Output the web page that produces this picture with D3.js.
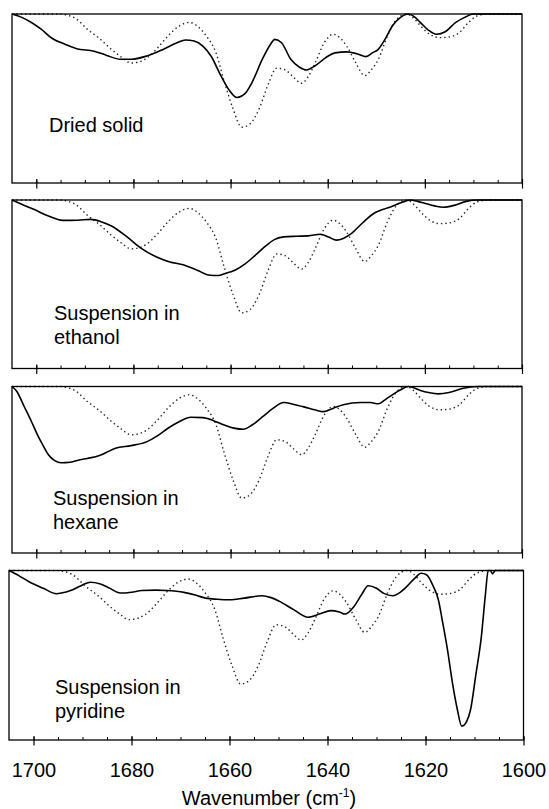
<!DOCTYPE html>
<html>
<head>
<meta charset="utf-8">
<script src="https://cdn.jsdelivr.net/npm/d3@7"></script>
<style>
  body { margin: 0; background: #fff; }
  svg { display: block; font-family: 'Liberation Sans', Arial, sans-serif; }
</style>
</head>
<body>
<svg class="chartContainer" width="549" height="809"></svg>
<script>
// x axis: wavenumber, high on the left
const xDomain = [1705, 1600]
const majorTicks = [1700, 1680, 1660, 1640, 1620, 1600]
const minorTicks = [1700, 1695, 1690, 1685, 1680, 1675, 1670, 1665, 1660, 1655, 1650,
  1645, 1640, 1635, 1630, 1625, 1620, 1615, 1610, 1605, 1600]

// Depth of each trace below the panel top, in % of panel height: [wavenumber, depth]
// dotted reference trace, the same in every panel
const referenceTrace = [
  [1705, 0], [1695.3, 0], [1692, 2.5], [1689.5, 9], [1687, 14.5], [1684.5, 21], [1682.5, 25.5],
  [1680.5, 29], [1678.5, 28], [1677.2, 26], [1675, 20], [1672.9, 13], [1670.5, 7], [1668.5, 5],
  [1666.7, 7.5], [1665, 13], [1663, 23], [1661.3, 40], [1659.5, 56], [1657.7, 67], [1656, 65],
  [1654.1, 56], [1652.3, 42], [1650.5, 32], [1648.8, 33], [1647, 37.5], [1645.4, 41], [1644, 37],
  [1642.6, 29], [1640.7, 17], [1638.9, 12], [1637.5, 14], [1636.1, 19], [1634.2, 29], [1632.4, 36.5],
  [1631, 33], [1629.6, 27], [1627.7, 13], [1625.9, 3.5], [1623.8, 0], [1622.3, 2.5], [1620.9, 7],
  [1619, 12], [1616.9, 14], [1614.8, 13.5], [1612.9, 11], [1611, 5], [1609.3, 1.2], [1607, 0], [1600, 0]
]

const driedSolid = [
  [1705, 0], [1703, 2], [1701, 5], [1699, 9], [1696.7, 14.5], [1694, 18], [1691.7, 20.5], [1688.1, 22],
  [1685.5, 24.5], [1682.7, 26.8], [1680.5, 26.8], [1677.2, 24.8], [1673.6, 20.5], [1671, 17],
  [1669.3, 15.4], [1667.5, 16], [1665.7, 19], [1664, 25], [1662, 36.5], [1660.3, 45], [1658.7, 49.4],
  [1657, 47], [1655.6, 40.6], [1653.5, 27], [1651.8, 18], [1650.9, 15], [1649.5, 17], [1647.6, 26.8],
  [1645.8, 31.5], [1644.4, 33.1], [1642.5, 30.5], [1640.4, 25.8], [1638.5, 23], [1636.1, 22.4],
  [1634, 23.5], [1632.1, 25.2], [1630.8, 23], [1629.6, 20.9], [1628, 14], [1626.7, 7.1], [1625, 2],
  [1623.4, 0], [1622, 2], [1620.9, 5.1], [1619.3, 9.5], [1617.6, 12], [1615.8, 10.5], [1613.7, 5.1],
  [1611.8, 2], [1610, 0], [1600, 0]
]

const inEthanol = [
  [1705, 0], [1703, 2.5], [1700.4, 5.7], [1697.5, 9.5], [1694.6, 12.1], [1691.5, 12], [1688.8, 11.5],
  [1686.5, 13], [1684.5, 15.4], [1681.5, 21.5], [1678.7, 28.1], [1675.1, 34], [1672.5, 36.8],
  [1670, 38.3], [1667, 41.5], [1664.2, 44.7], [1662.5, 44.8], [1661.3, 43.8], [1659, 41.5],
  [1657, 37.9], [1654.8, 32.5], [1652.7, 27.1], [1651, 23.5], [1649.1, 21.9], [1646.5, 21.5],
  [1644, 21.3], [1641.5, 20.3], [1639.8, 22], [1638.2, 23.8], [1636.8, 22.8], [1635.3, 20.3],
  [1632.8, 13.5], [1630.3, 7.6], [1628.5, 5.5], [1626.7, 3.7], [1624.8, 1.5], [1623.1, 0],
  [1621.5, 0.8], [1620.2, 1.8], [1618, 3.5], [1616.2, 4.3], [1614, 3.2], [1611.5, 0.8], [1609, 0], [1600, 0]
]

const inHexane = [
  [1705, 0], [1704, 3], [1702.5, 12], [1701, 21], [1699.6, 30], [1698.5, 36], [1697.5, 41],
  [1696.2, 44.5], [1694.9, 45.8], [1693, 45.5], [1691, 44], [1689.5, 43.2], [1687, 41.5],
  [1685.5, 39.5], [1683.7, 37.1], [1680.5, 35.5], [1677.2, 33.1], [1675, 29.5], [1672.9, 25.1],
  [1670.5, 21], [1668.2, 18.5], [1665.7, 18.7], [1663.5, 20.5], [1661.3, 23.1], [1659.3, 25],
  [1657.4, 25.7], [1655.5, 23], [1653.4, 18.1], [1651.2, 13], [1649.1, 9.6], [1646.9, 10.8],
  [1644.7, 12.4], [1642.7, 14], [1640.8, 15.1], [1638.8, 13], [1636.8, 11], [1633.2, 9.6],
  [1631.2, 9.6], [1629.6, 10.4], [1628.2, 8], [1626.7, 5], [1625, 2], [1623.4, 0], [1621.9, 1.2],
  [1620.9, 2.4], [1619, 3.8], [1617.3, 4.4], [1615, 3.6], [1612.3, 1.2], [1609, 0], [1600, 0]
]

const inPyridine = [
  [1705, 0], [1703, 3], [1701, 6.5], [1698, 10.5], [1695.3, 13.7], [1693.5, 12.8], [1692, 11.4],
  [1690, 8.5], [1688.4, 6.9], [1686.5, 7.8], [1684.5, 10.4], [1682.3, 13.3], [1680, 12.8],
  [1677.9, 11.8], [1675, 11.6], [1672.9, 11.8], [1669.3, 12.9], [1667, 14.5], [1664.9, 16.3],
  [1662.5, 17], [1659.9, 17.3], [1657, 16.3], [1653.4, 14.9], [1651.5, 16], [1649.8, 18.2],
  [1646.9, 23.1], [1644, 27.6], [1641.5, 25.5], [1639.3, 23.7], [1637.6, 24.5], [1636.4, 25.7],
  [1634.6, 21.2], [1633, 14], [1631.7, 9], [1630, 10.5], [1628.5, 13.5], [1626.7, 14.9], [1625, 12.5],
  [1623.8, 9.4], [1622, 4], [1620.9, 1.6], [1619.8, 2.5], [1618.4, 9.4], [1617.4, 17], [1616.6, 29],
  [1615.5, 47], [1614.5, 66.3], [1613.5, 82], [1612.6, 91.8], [1611.6, 89], [1610.8, 82],
  [1609.7, 61], [1608.6, 39], [1607.8, 15], [1607.2, 0], [1606.8, 0], [1606.3, 2], [1605.8, 0], [1600, 0]
]

const panelTraces = [driedSolid, inEthanol, inHexane, inPyridine]
const panelLabels = [['Dried solid'], ['Suspension in', 'ethanol'], ['Suspension in', 'hexane'], ['Suspension in', 'pyridine']]
const xAxisLabel = 'Wavenumber (cm'

// panel boxes on the page
const boxes = [
  { top: 14, bottom: 183, left: 12, right: 522, labelX: 49, labelY: 132 },
  { top: 200, bottom: 368.5, left: 12, right: 522, labelX: 54, labelY: 320 },
  { top: 386.5, bottom: 553, left: 12, right: 522, labelX: 53, labelY: 505 },
  { top: 570.5, bottom: 740, left: 9, right: 523.5, labelX: 55, labelY: 694 }
]

const svg = d3.select('svg.chartContainer')

panelTraces.forEach((trace, i) => {
  const box = boxes[i]
  const x = d3.scaleLinear().domain(xDomain).range([box.left, box.right])
  const y = d3.scaleLinear().domain([0, 100]).range([box.top, box.bottom])
  const line = d3.line()
    .x(d => x(d[0]))
    .y(d => y(d[1]))
    .curve(d3.curveMonotoneX)

  const g = svg.append('g').attr('class', 'panel')

  g.append('path')
    .datum(referenceTrace)
    .attr('d', line)
    .attr('fill', 'none')
    .attr('stroke', '#222')
    .attr('stroke-width', 1.4)
    .attr('stroke-dasharray', '1.4,3')

  g.append('path')
    .datum(trace)
    .attr('d', line)
    .attr('fill', 'none')
    .attr('stroke', '#000')
    .attr('stroke-width', 1.6)

  g.append('rect')
    .attr('x', box.left)
    .attr('y', box.top)
    .attr('width', box.right - box.left)
    .attr('height', box.bottom - box.top)
    .attr('fill', 'none')
    .attr('stroke', '#000')
    .attr('stroke-width', 1.3)

  // minor ticks, pointing into the panel
  const minorG = g.append('g')
    .attr('transform', `translate(0,${box.bottom})`)
    .call(d3.axisTop(x).tickValues(minorTicks).tickSize(3).tickFormat(''))
  minorG.select('.domain').remove()

  // major ticks cross the bottom edge; labels only under the last panel
  const majorG = g.append('g')
    .attr('transform', `translate(0,${box.bottom})`)
    .call(d3.axisBottom(x)
      .tickValues(majorTicks)
      .tickSize(5.5)
      .tickPadding(17.5)
      .tickFormat(i === panelTraces.length - 1 ? d3.format('d') : ''))
  majorG.attr('font-family', null).attr('font-size', null)
  majorG.select('.domain').remove()
  majorG.selectAll('.tick line').attr('y1', -4).attr('stroke-width', 1.2)
  majorG.selectAll('.tick text').style('font-size', '20px').attr('fill', '#000')

  const label = g.append('text')
    .attr('x', box.labelX)
    .attr('y', box.labelY)
    .style('font-size', '20px')
    .attr('fill', '#000')
  panelLabels[i].forEach((t, j) => {
    label.append('tspan')
      .attr('x', box.labelX)
      .attr('dy', j === 0 ? 0 : 24)
      .text(t)
  })
})

// x axis title
const title = svg.append('text')
  .attr('x', 269)
  .attr('y', 805)
  .attr('text-anchor', 'middle')
  .style('font-size', '20px')
  .attr('fill', '#000')
title.append('tspan').text(xAxisLabel)
title.append('tspan').attr('dy', -8).style('font-size', '12px').text('-1')
title.append('tspan').attr('dy', 8).text(')')
</script>
</body>
</html>
